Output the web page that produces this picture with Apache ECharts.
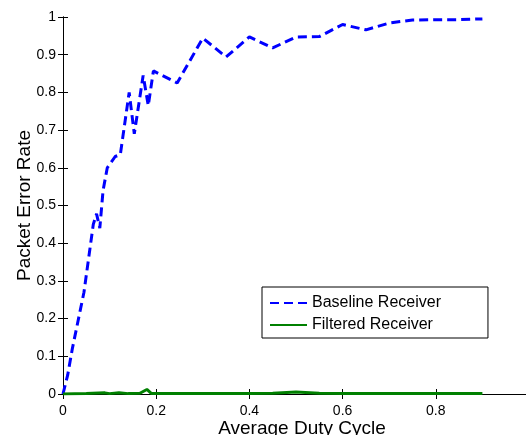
<!DOCTYPE html>
<html>
<head>
<meta charset="utf-8">
<script src="https://cdn.jsdelivr.net/npm/echarts@6/dist/echarts.min.js"></script>
<style>
  html, body { margin: 0; padding: 0; background: #fff; }
  #main { width: 526px; height: 435px; }
</style>
</head>
<body>
<div id="main"></div>
<script>
// values
var baselineX = [0, 0.01, 0.02, 0.035, 0.045, 0.055, 0.065, 0.072, 0.079, 0.086, 0.095, 0.112, 0.123,
    0.142, 0.153, 0.172, 0.183, 0.194, 0.245, 0.3, 0.35, 0.4, 0.45, 0.5, 0.55, 0.6, 0.65, 0.7,
    0.75, 0.8, 0.85, 0.9];
var baselineY = [0, 0.05, 0.12, 0.21, 0.27, 0.36, 0.45, 0.478, 0.44, 0.54, 0.60, 0.63, 0.635,
    0.80, 0.69, 0.845, 0.765, 0.857, 0.825, 0.944, 0.894, 0.947, 0.918, 0.947, 0.948, 0.98, 0.966, 0.984,
    0.992, 0.993, 0.993, 0.995];
var filteredX = [0, 0.05, 0.09, 0.1, 0.12, 0.14, 0.165, 0.18, 0.19, 0.25, 0.3, 0.4, 0.45, 0.5, 0.55, 0.6, 0.7, 0.8, 0.9];
var filteredY = [0, 0.001, 0.003, 0.001, 0.003, 0.001, 0.002, 0.012, 0.001, 0.001, 0.001, 0.001, 0.002, 0.005, 0.002, 0.001, 0.001, 0.001, 0.001];
var xTicks = [0, 0.2, 0.4, 0.6, 0.8, 1];
var yTicks = [0, 0.1, 0.2, 0.3, 0.4, 0.5, 0.6, 0.7, 0.8, 0.9, 1];

function pairs(xs, ys) {
    var out = [];
    for (var i = 0; i < xs.length; i++) {
        out.push([xs[i], ys[i]]);
    }
    return out;
}

var font = 'Liberation Sans, Arial, Helvetica, sans-serif';
var mychart = echarts.init(document.getElementById('main'));
var option = {
    animation: false,
    backgroundColor: '#fff',
    textStyle: { fontFamily: font, color: '#000' },
    grid: { left: 63, top: 17, width: 466, height: 377, containLabel: false, outerBoundsMode: 'none' },
    legend: {
        orient: 'vertical',
        left: 262,
        top: 287,
        padding: [8, 47, 5, 7],
        itemWidth: 37,
        itemHeight: 14,
        itemGap: 6,
        backgroundColor: '#fff',
        borderColor: '#000',
        borderWidth: 1,
        borderRadius: 0,
        itemStyle: { opacity: 0 },
        textStyle: { fontFamily: font, fontSize: 16, color: '#000' },
        data: ['Baseline Receiver', 'Filtered Receiver']
    },
    xAxis: [
        {
            type: 'value',
            min: xTicks[0],
            max: xTicks[xTicks.length - 1],
            interval: 0.2,
            position: 'bottom',
            name: 'Average Duty Cycle',
            nameLocation: 'middle',
            nameGap: 25,
            nameMoveOverlap: false,
            nameTextStyle: { fontFamily: font, fontSize: 19, color: '#000', padding: [0, 0, 0, 12] },
            axisLine: { lineStyle: { color: '#000', width: 1 } },
            axisTick: { inside: true, length: 5, lineStyle: { color: '#000' } },
            axisLabel: { fontFamily: font, fontSize: 14, color: '#000', margin: 10 },
            splitLine: { show: false }
        },
        {
            type: 'value',
            min: xTicks[0],
            max: xTicks[xTicks.length - 1],
            interval: 0.2,
            position: 'top',
            axisLine: { lineStyle: { color: '#000', width: 1 } },
            axisTick: { inside: true, length: 5, lineStyle: { color: '#000' } },
            axisLabel: { show: false },
            splitLine: { show: false }
        }
    ],
    yAxis: [
        {
            type: 'value',
            min: yTicks[0],
            max: yTicks[yTicks.length - 1],
            interval: 0.1,
            position: 'left',
            name: 'Packet Error Rate',
            nameLocation: 'middle',
            nameGap: 29,
            nameMoveOverlap: false,
            nameTextStyle: { fontFamily: font, fontSize: 19, color: '#000' },
            axisLine: { show: true, lineStyle: { color: '#000', width: 1 } },
            axisTick: { show: true, inside: true, length: 5, lineStyle: { color: '#000' } },
            axisLabel: { fontFamily: font, fontSize: 14, color: '#000', margin: 7 },
            splitLine: { show: false }
        },
        {
            type: 'value',
            min: yTicks[0],
            max: yTicks[yTicks.length - 1],
            interval: 0.1,
            position: 'right',
            axisLine: { show: true, lineStyle: { color: '#000', width: 1 } },
            axisTick: { show: true, inside: true, length: 5, lineStyle: { color: '#000' } },
            axisLabel: { show: false },
            splitLine: { show: false }
        }
    ],
    series: [
        {
            name: 'Baseline Receiver',
            type: 'line',
            symbol: 'none',
            data: pairs(baselineX, baselineY),
            itemStyle: { color: '#0000ff' },
            lineStyle: { color: '#0000ff', width: 3, type: [9, 5] },
            z: 3
        },
        {
            name: 'Filtered Receiver',
            type: 'line',
            symbol: 'none',
            data: pairs(filteredX, filteredY),
            itemStyle: { color: '#008000' },
            lineStyle: { color: '#008000', width: 3 },
            z: 4
        }
    ]
};
mychart.setOption(option);
</script>
</body>
</html>
